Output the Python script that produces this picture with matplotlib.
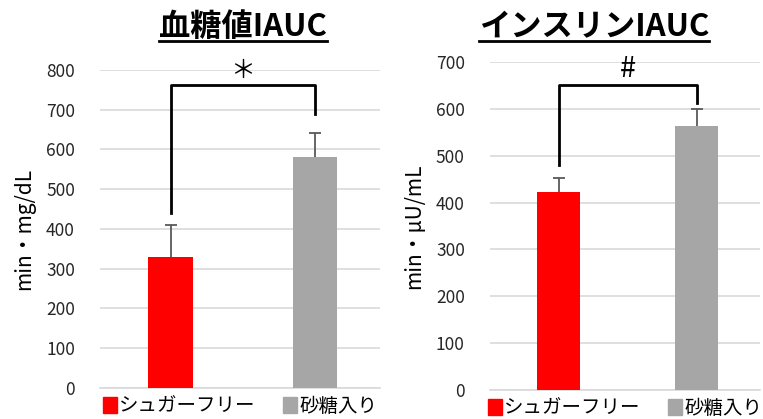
import numpy as np
import matplotlib.pyplot as plt
from matplotlib.patches import Patch
from matplotlib.lines import Line2D

plt.rcParams['font.family'] = ['Noto Sans CJK JP', 'DejaVu Sans']

groups = ['シュガーフリー', '砂糖入り']
colors = ['#ff0000', '#a6a6a6']

glucose = [330, 581]
glucose_err = [80, 60]
insulin = [423, 563]
insulin_err = [30, 37]


def draw_panel(ax, vals, errs, ymax, ylabel, mark, mark_size, br_top, br_legs, xlim):
    x = np.arange(len(vals))
    tops = np.array(vals) + np.array(errs)
    ax.bar(x, vals, width=0.31, color=colors, zorder=3)
    # one-sided error bars, cap at the top only
    ax.vlines(x, vals, tops, color='#595959', linewidth=1.3, zorder=4)
    ax.plot(x, tops, linestyle='none', marker='_', markersize=9,
            markeredgewidth=1.3, color='#595959', zorder=4)
    ax.set_ylim(0, ymax)
    ax.set_xlim(*xlim)
    ax.set_yticks(np.arange(0, ymax + 1, 100))
    ax.set_xticks([])
    ax.grid(axis='y', color='#d9d9d9', linewidth=1.2, zorder=0)
    for s in ['top', 'right', 'left']:
        ax.spines[s].set_visible(False)
    ax.spines['bottom'].set_color('#d9d9d9')
    ax.spines['bottom'].set_linewidth(1.2)
    ax.tick_params(axis='y', length=0, labelsize=12.5, colors='#262626', pad=18)
    ax.set_ylabel(ylabel, fontsize=15, labelpad=8)
    # significance bracket
    ax.plot([0, 0, 1, 1], [br_legs[0], br_top, br_top, br_legs[1]],
            color='black', linewidth=2, clip_on=False, zorder=5)
    ax.text(0.5, br_top + 3, mark, ha='center', va='bottom', fontsize=mark_size,
            clip_on=False)
    handles = [Patch(color=c) for c in colors]
    ax.legend(handles, groups, loc='upper center', bbox_to_anchor=(0.5, 0.0),
              ncol=2, frameon=False, fontsize=14, handlelength=0.75,
              handleheight=0.85, handletextpad=0.1, columnspacing=1.4,
              borderaxespad=0.0)


def underlined_title(fig, x, y, text):
    t = fig.text(x, y, text, ha='center', va='center', fontsize=22.5,
                 fontweight='bold')
    fig.canvas.draw()
    bb = t.get_window_extent().transformed(fig.transFigure.inverted())
    uy = bb.y0 + 0.004
    fig.add_artist(Line2D([bb.x0, bb.x1], [uy, uy], color='black',
                          linewidth=2, transform=fig.transFigure))


fig = plt.figure(figsize=(7.63, 4.19), dpi=100)
ax1 = fig.add_axes([0.131, 0.074, 0.367, 0.759])
ax2 = fig.add_axes([0.642, 0.069, 0.354, 0.783])

draw_panel(ax1, glucose, glucose_err, 800, 'min・mg/dL', '＊', 18,
           762, (440, 690), (-0.49, 1.45))
draw_panel(ax2, insulin, insulin_err, 700, 'min・μU/mL', '#', 21,
           651, (480, 613), (-0.5, 1.46))

underlined_title(fig, 243 / 763, 1 - 27 / 419, '血糖値IAUC')
underlined_title(fig, 594 / 763, 1 - 27 / 419, 'インスリンIAUC')

fig.savefig('out.png', dpi=100)
